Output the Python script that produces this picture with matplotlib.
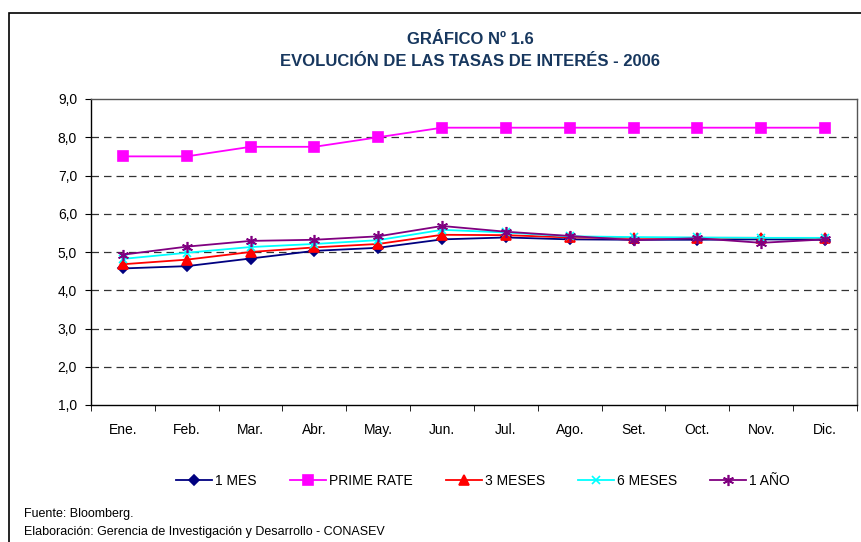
import matplotlib
matplotlib.use("Agg")
import matplotlib.pyplot as plt
from matplotlib.patches import Rectangle
from matplotlib.ticker import FixedLocator, FuncFormatter

plt.rcParams['font.family'] = ['Liberation Sans', 'DejaVu Sans']

meses = ["Ene.", "Feb.", "Mar.", "Abr.", "May.", "Jun.",
         "Jul.", "Ago.", "Set.", "Oct.", "Nov.", "Dic."]

mes_1 = [4.57, 4.63, 4.83, 5.03, 5.11, 5.33, 5.38, 5.33, 5.32, 5.32, 5.33, 5.32]
prime_rate = [7.50, 7.50, 7.75, 7.75, 8.00, 8.25, 8.25, 8.25, 8.25, 8.25, 8.25, 8.25]
meses_3 = [4.68, 4.80, 5.00, 5.12, 5.21, 5.45, 5.44, 5.38, 5.37, 5.37, 5.37, 5.36]
meses_6 = [4.82, 4.98, 5.13, 5.21, 5.31, 5.58, 5.51, 5.41, 5.39, 5.38, 5.37, 5.37]
anio_1 = [4.93, 5.14, 5.29, 5.32, 5.41, 5.68, 5.53, 5.42, 5.31, 5.36, 5.24, 5.33]

fig = plt.figure(figsize=(8.62, 5.42), dpi=100)

# marco exterior
fig.patches.append(Rectangle((9 / 862, -0.2), 1.2, 1.2 - 13 / 542,
                             transform=fig.transFigure, fill=False,
                             edgecolor="black", linewidth=1.2))

ax = fig.add_axes([91 / 862, 1 - 405 / 542, (857 - 91) / 862, (405 - 99) / 542])

x = list(range(len(meses)))
series = [
    ("1 MES", mes_1, "#000080", "D", 5),
    ("PRIME RATE", prime_rate, "#FF00FF", "s", 7),
    ("3 MESES", meses_3, "#FF0000", "^", 7),
    ("6 MESES", meses_6, "#00FFFF", "x", 6),
    ("1 AÑO", anio_1, "#800080", (6, 2, 0), 8),
]
for label, vals, color, marker, ms in series:
    ax.plot(x, vals, color=color, marker=marker, markersize=ms,
            markeredgewidth=1.2, linewidth=1.3, label=label, clip_on=False)

ax.set_xlim(-0.5, len(meses) - 0.5)
ax.set_ylim(1, 9)
ax.set_yticks([1, 2, 3, 4, 5, 6, 7, 8, 9])
ax.yaxis.set_major_formatter(FuncFormatter(lambda v, p: f"{v:.1f}".replace(".", ",")))
for yv in range(2, 9):
    ax.axhline(yv, color="#333333", linestyle=(0, (6, 4)), linewidth=0.9, zorder=0)

ax.set_xticks(x)
ax.set_xticklabels(meses)
ax.xaxis.set_minor_locator(FixedLocator([i - 0.5 for i in range(len(meses) + 1)]))
ax.tick_params(axis="x", which="major", length=0, pad=13, labelsize=10)
ax.tick_params(axis="x", which="minor", length=4, direction="out")
ax.tick_params(axis="y", length=4, direction="out", labelsize=10, pad=6)
for s in ax.spines.values():
    s.set_linewidth(1.0)
ax.spines["right"].set_color("#555555")
ax.spines["top"].set_color("#555555")

fig.text(470 / 862, 1 - 40 / 542, "GRÁFICO Nº 1.6", ha="center", va="center",
         fontsize=12, fontweight="bold", color="#17375E")
fig.text(470 / 862, 1 - 62 / 542, "EVOLUCIÓN DE LAS TASAS DE INTERÉS - 2006",
         ha="center", va="center", fontsize=12, fontweight="bold", color="#17375E")

fig.legend(loc="center", bbox_to_anchor=(483 / 862, 1 - 481 / 542), ncol=5,
           frameon=False, fontsize=10, handlelength=2.6, columnspacing=2.4,
           handletextpad=0.2)

fig.text(24 / 862, 1 - 514 / 542, "Fuente: Bloomberg.", ha="left", va="center", fontsize=9)
fig.text(24 / 862, 1 - 532 / 542,
         "Elaboración: Gerencia de Investigación y Desarrollo - CONASEV",
         ha="left", va="center", fontsize=9)

fig.savefig("out.png", dpi=100)
